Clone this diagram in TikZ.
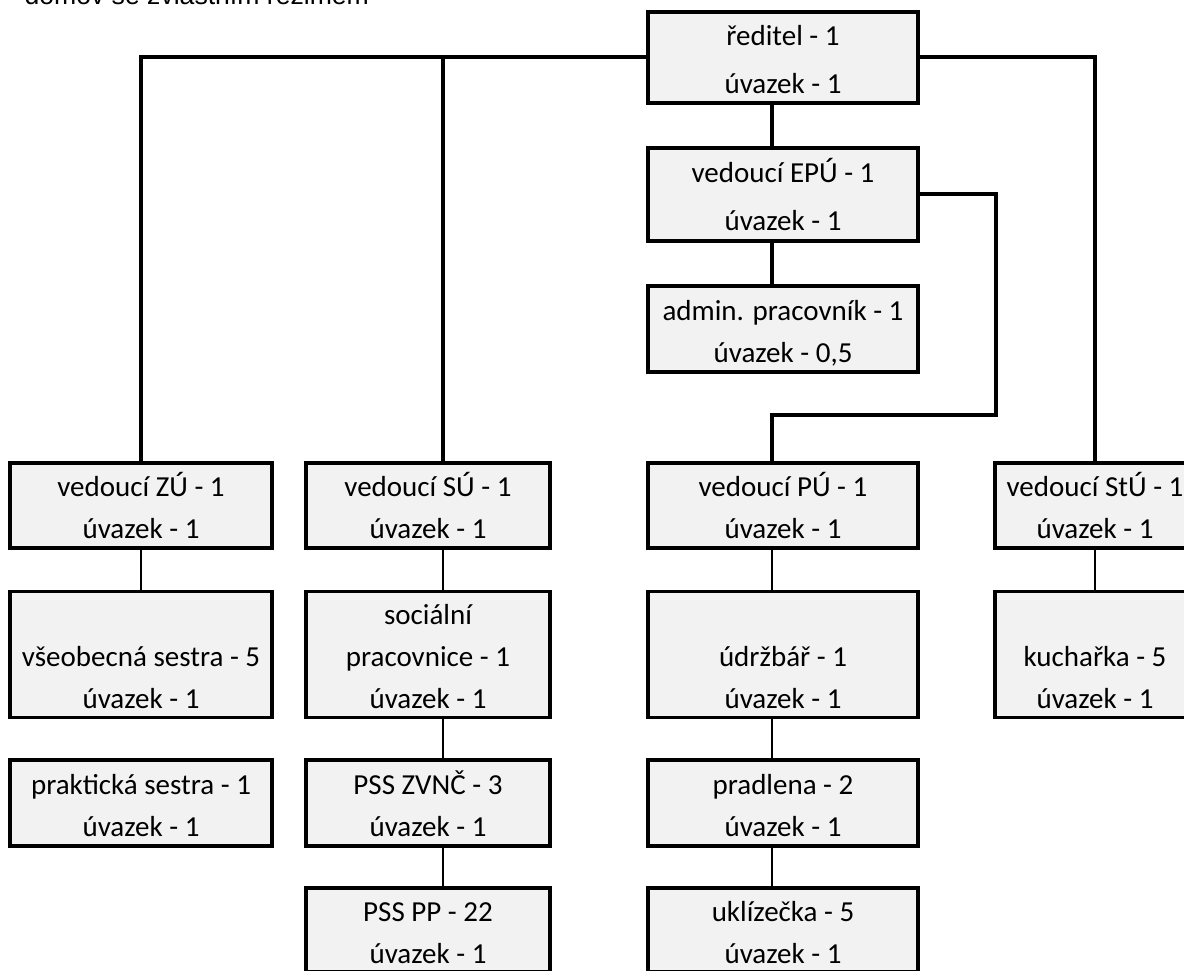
\documentclass[tikz,border=0pt]{standalone}
\usepackage{fontspec}
\setmainfont{Carlito}
\newfontfamily\headfont{Liberation Sans}
\usepackage{xcolor}
\usetikzlibrary{positioning,backgrounds}
\definecolor{boxgray}{HTML}{F2F2F2}
\newcommand{\boxstrut}{\rule[-9pt]{0pt}{42pt}}
\newcommand{\job}[2]{\boxstrut #1\\\boxstrut #2}

\begin{document}
\begin{tikzpicture}[x=1pt, y=-1pt,
  box/.style={draw, line width=3.2pt, fill=boxgray, inner sep=0pt,
              minimum height=86pt, align=center,
              font=\fontsize{29}{42}\selectfont},
  tall/.style={minimum height=123pt},
  roomy/.style={font=\fontsize{29}{48}\selectfont},
  bus/.style={line width=4pt},
  link/.style={line width=2pt}
]
  \useasboundingbox (0,0) rectangle (1184,971);
  \node[anchor=base west, font=\headfont\fontsize{26.6}{32}\selectfont]
    (title) at (21,5) {domov se zvláštním režimem};

  % vedeni
  \node[box, roomy, minimum width=270pt, minimum height=91pt] (dir) at (783,57.5) {\job{ředitel - 1}{úvazek - 1}};
  \node[box, roomy, minimum width=270pt, minimum height=93pt] (epu) at (783,194.5) {\job{vedoucí EPÚ - 1}{úvazek - 1}};
  \node[box, minimum width=270pt] (admin) at (783,329) {\job{admin. pracovník - 1}{úvazek - 0,5}};
  \coordinate (elbow) at (996,415);

  % useky
  \node[box, minimum width=262pt, minimum height=85pt] (zu)  at (141,505.5)  {\job{vedoucí ZÚ - 1}{úvazek - 1}};
  \node[box, minimum width=244pt, minimum height=85pt] (su)  at (428,505.5)  {\job{vedoucí SÚ - 1}{úvazek - 1}};
  \node[box, minimum width=270pt, minimum height=85pt] (pu)  at (783,505.5)  {\job{vedoucí PÚ - 1}{úvazek - 1}};
  \node[box, minimum width=200pt, minimum height=85pt] (stu) at (1095,505.5) {\job{vedoucí StÚ - 1}{úvazek - 1}};

  \node[box, tall, minimum width=262pt] (vs)   at (141,654.5)  {\boxstrut\\\job{všeobecná sestra - 5}{úvazek - 1}};
  \node[box, tall, minimum width=244pt] (soc)  at (428,654.5)  {\boxstrut sociální\\\job{pracovnice - 1}{úvazek - 1}};
  \node[box, tall, minimum width=270pt] (udr)  at (783,654.5)  {\boxstrut\\\job{údržbář - 1}{úvazek - 1}};
  \node[box, tall, minimum width=200pt] (kuch) at (1095,654.5) {\boxstrut\\\job{kuchařka - 5}{úvazek - 1}};

  \node[box, minimum width=262pt] (ps)   at (141,803) {\job{praktická sestra - 1}{úvazek - 1}};
  \node[box, minimum width=244pt] (zvnc) at (428,803) {\job{PSS ZVNČ - 3}{úvazek - 1}};
  \node[box, minimum width=270pt] (pra)  at (783,803) {\job{pradlena - 2}{úvazek - 1}};

  \node[box, minimum width=244pt, minimum height=84pt] (pp)  at (428,930) {\job{PSS PP - 22}{úvazek - 1}};
  \node[box, minimum width=270pt, minimum height=84pt] (ukl) at (783,930) {\job{uklízečka - 5}{úvazek - 1}};

  \begin{pgfonlayer}{background}
    \draw[bus] (zu.north) |- (dir.west);
    \draw[bus] ([xshift=15pt]su.north) |- (dir.west);
    \draw[bus] (dir.east) -| (stu.north);
    \draw[bus] ([xshift=-11pt]dir.south) -- ([xshift=-11pt]epu.north);
    \draw[bus] ([xshift=-11pt]epu.south) -- ([xshift=-11pt]admin.north);
    \draw[bus] (epu.east) -| (elbow) -| ([xshift=-11pt]pu.north);

    \draw[link] (zu.south) -- (vs.north);
    \draw[link] ([xshift=15pt]su.south) -- ([xshift=15pt]soc.north);
    \draw[link] ([xshift=15pt]soc.south) -- ([xshift=15pt]zvnc.north);
    \draw[link] ([xshift=15pt]zvnc.south) -- ([xshift=15pt]pp.north);
    \draw[link] ([xshift=-11pt]pu.south) -- ([xshift=-11pt]udr.north);
    \draw[link] ([xshift=-11pt]udr.south) -- ([xshift=-11pt]pra.north);
    \draw[link] ([xshift=-11pt]pra.south) -- ([xshift=-11pt]ukl.north);
    \draw[link] (stu.south) -- (kuch.north);
  \end{pgfonlayer}
\end{tikzpicture}
\end{document}
